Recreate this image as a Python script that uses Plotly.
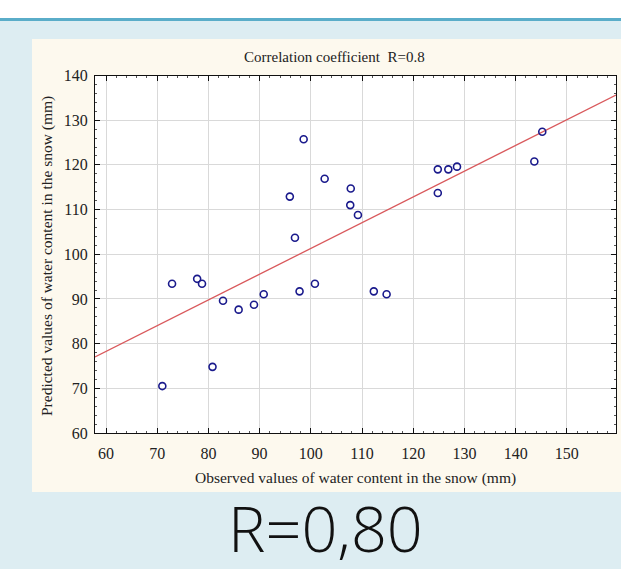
import plotly.graph_objects as go

# ---- data ----
observed = [72.9, 77.8, 78.75, 82.85, 80.8, 71.0,
            98.6, 102.7, 107.8, 95.9, 107.7, 109.2, 96.9, 100.8, 97.8,
            112.3, 114.8, 90.8, 88.9, 85.9,
            124.8, 126.85, 128.55, 124.8, 143.65, 145.2]
predicted = [93.4, 94.5, 93.4, 89.6, 74.8, 70.5,
             125.75, 116.9, 114.7, 112.9, 111.0, 108.8, 103.7, 93.4, 91.7,
             91.7, 91.05, 91.05, 88.7, 87.6,
             119.0, 119.0, 119.6, 113.7, 120.75, 127.4]
fit_intercept = 43.7
fit_slope = 0.576
x_range = [57.85, 159.6]
y_range = [60, 140]
x_ticks = [60, 70, 80, 90, 100, 110, 120, 130, 140, 150, 160]
y_ticks = [60, 70, 80, 90, 100, 110, 120, 130, 140]

W, H = 621, 569
def px(x):
    return x / W
def py(y):
    return 1 - y / H

fit_x = x_range
fit_y = [fit_intercept + fit_slope * v for v in fit_x]

fig = go.Figure()
fig.add_trace(go.Scatter(x=fit_x, y=fit_y, mode="lines",
                         line=dict(color="#d9595c", width=1.3),
                         hoverinfo="skip", showlegend=False))
fig.add_trace(go.Scatter(x=observed, y=predicted, mode="markers",
                         marker=dict(symbol="circle-open", size=7,
                                     color="#1a1a8c", line=dict(width=1.6, color="#1a1a8c")),
                         showlegend=False))

serif = "Liberation Serif"
axis_common = dict(
    showline=True, linecolor="#111", linewidth=1.2, mirror="allticks",
    ticks="inside", ticklen=5, tickcolor="#111", tickwidth=1,
    showgrid=True, gridcolor="#d9d9d9", gridwidth=1, zeroline=False,
    automargin=False,
    tickfont=dict(family=serif, size=16, color="#222"),
    minor=dict(ticks="inside", ticklen=2, tickcolor="#555", dtick=2, showgrid=False),
)

fig.update_layout(
    width=W, height=H, autosize=False,
    margin=dict(l=0, r=0, t=0, b=0, pad=0, autoexpand=False),
    paper_bgcolor="#ddedf2", plot_bgcolor="#ffffff",
    xaxis=dict(domain=[px(95), px(616)], range=x_range, tickvals=x_ticks,
               ticklabelstandoff=6, **axis_common),
    yaxis=dict(domain=[py(433), py(75.5)], range=y_range, tickvals=y_ticks,
               ticklabelstandoff=3, **axis_common),
    shapes=[
        dict(type="rect", xref="paper", yref="paper", x0=0, x1=1, y0=py(18), y1=1,
             fillcolor="#ffffff", line=dict(width=0), layer="below"),
        dict(type="rect", xref="paper", yref="paper", x0=0, x1=1, y0=py(21), y1=py(18),
             fillcolor="#5aadc9", line=dict(width=0), layer="below"),
        dict(type="rect", xref="paper", yref="paper", x0=px(32), x1=1, y0=py(492), y1=py(39),
             fillcolor="#fdf9ee", line=dict(width=0), layer="below"),
        dict(type="rect", xref="paper", yref="paper", x0=px(95), x1=px(616), y0=py(433), y1=py(75.5),
             fillcolor="#ffffff", line=dict(width=0), layer="below"),
    ],
    annotations=[
        dict(text="Correlation coefficient  R=0.8", xref="paper", yref="paper",
             x=px(334.5), y=py(57), xanchor="center", yanchor="middle", showarrow=False,
             font=dict(family=serif, size=15, color="#222")),
        dict(text="Observed values of water content in the snow (mm)", xref="paper", yref="paper",
             x=px(355), y=py(478), xanchor="center", yanchor="middle", showarrow=False,
             font=dict(family=serif, size=15.5, color="#222")),
        dict(text="Predicted values of water content in the snow (mm)", xref="paper", yref="paper",
             x=px(47), y=py(256), xanchor="center", yanchor="middle", showarrow=False,
             textangle=-90, font=dict(family=serif, size=15.5, color="#222")),
        dict(text="R=0,80", xref="paper", yref="paper",
             x=px(325), y=py(527), xanchor="center", yanchor="middle", showarrow=False,
             font=dict(family="Open Sans", size=63, color="#111", weight=300)),
    ],
)

fig.write_html("out.html", config={"displayModeBar": False},
               post_script="document.body.style.margin='0';document.body.style.overflow='hidden';")
